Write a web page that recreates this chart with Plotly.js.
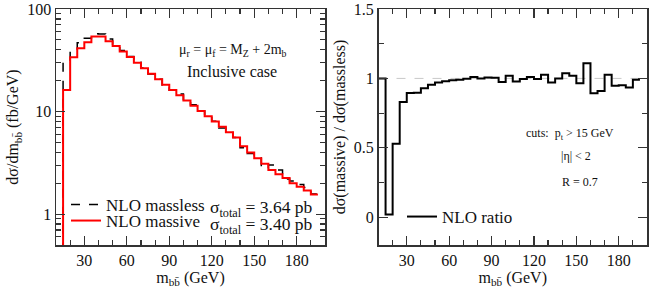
<!DOCTYPE html>
<html>
<head>
<meta charset="utf-8">
<script src="https://cdn.plot.ly/plotly-3.0.1.min.js"></script>
<style>body{margin:0;padding:0;background:#fff}#chart{width:650px;height:289px}</style>
</head>
<body>
<div id="chart"></div>
<script>
// bin edges (GeV), 5 GeV bins
const binEdges = [10,15,20,25,30,35,40,45,50,55,60,65,70,75,80,85,90,95,100,105,110,115,120,125,130,135,140,145,150,155,160,165,170,175,180,185,190,195];
// dσ/dm (fb/GeV), NLO massless (black dashed)
const massless = [0.1,30,40.5,47,52,57.5,57,51,45,39.3,34.5,30.3,26.6,23.2,20.7,18.2,16.1,14.8,12.55,11.65,10.15,8.9,8.05,6.9,6.5,5.6,4.45,3.9,3.62,2.8,3.02,2.7,2.2,2.1,1.95,1.82,1.57];
// dσ/dm (fb/GeV), NLO massive (red)
const massive = [0.1,16.2,33.8,41.5,47.4,54,54,48.5,43.5,38.5,34,30,26.5,23.4,20.7,18.3,16.2,14.4,12.8,11.4,10.1,9.0,8.0,7.1,6.3,5.6,4.6,4.0,3.5,3.1,2.7,2.45,2.25,2.0,1.85,1.7,1.55];
// ratio massive / massless
const ratio = [1.0,0.02,0.53,0.83,0.895,0.897,0.93,0.955,0.97,0.98,0.987,0.99,0.998,1.01,1.0,1.007,1.005,0.975,1.02,0.978,0.995,1.01,0.995,1.026,0.97,1.0,1.038,1.02,0.966,1.11,0.894,0.91,1.026,0.947,0.95,0.935,0.99];

const xTicks = [30,60,90,120,150,180];
const yLeftTicks = [1,10,100];
const yLeftTickText = ['1','10','100'];
const yLeftMinor = [0.6,0.7,0.8,0.9,2,3,4,5,6,7,8,9,20,30,40,50,60,70,80,90];

function stepY(v){ return v.concat([v[v.length-1]]); }

const FONT = '"Liberation Serif", "DejaVu Serif", serif';
const W = 650, TOP = 9, BOT = 245, PH = BOT - TOP;
const px = x => x / W;
const py = y => (BOT - y) / PH;

const traces = [
  {x: binEdges, y: stepY(massless), xaxis:'x', yaxis:'y', mode:'lines', name:'NLO massless',
   line:{shape:'hv', color:'#000', width:1.5, dash:'dash'}, legend:'legend'},
  {x: binEdges, y: stepY(massive), xaxis:'x', yaxis:'y', mode:'lines', name:'NLO massive',
   line:{shape:'hv', color:'#ff0000', width:2}, legend:'legend3'},
  {x: binEdges, y: stepY(ratio), xaxis:'x2', yaxis:'y2', mode:'lines', name:'NLO ratio',
   line:{shape:'hv', color:'#000', width:2}, legend:'legend2'}
];

const axCommon = {
  showline:true, mirror:'allticks', linecolor:'#333', linewidth:1.5,
  ticks:'inside', tickcolor:'#333', tickwidth:1.2, showgrid:false, zeroline:false,
  tickfont:{family:FONT, size:16, color:'#111'}
};
const xTitle = {text:'m<sub>bb\u0304</sub> (GeV)', font:{family:FONT, size:16, color:'#111'}, standoff:2};
const legFont = {family:FONT, size:17, color:'#111'};

function ann(x, y, text, size, xanchor){
  return {xref:'paper', yref:'paper', x:px(x), y:py(y), xanchor:xanchor||'center', yanchor:'middle',
    showarrow:false, text:text, font:{family:FONT, size:size, color:'#111'}};
}

const layout = {
  width:650, height:289,
  margin:{l:0, r:0, t:TOP, b:289-BOT},
  paper_bgcolor:'#fff', plot_bgcolor:'#fff',
  font:{family:FONT, color:'#111'},
  xaxis: Object.assign({}, axCommon, {domain:[px(56), px(325)], range:[10,200], anchor:'y',
    tickmode:'array', tickvals:xTicks, ticklen:9,
    minor:{dtick:10, tick0:0, ticklen:5, ticks:'inside', tickcolor:'#333'},
    title:xTitle}),
  yaxis: Object.assign({}, axCommon, {type:'log', range:[Math.log10(0.5), 2], anchor:'x',
    tickmode:'array', tickvals:yLeftTicks, ticktext:yLeftTickText, ticklen:9,
    minor:{tickmode:'array', tickvals:yLeftMinor, ticklen:5, ticks:'inside', tickcolor:'#333'},
    title:{text:'d\u03c3/dm<sub>bb\u0304</sub> (fb/GeV)', font:{family:FONT, size:16, color:'#111'}, standoff:4}}),
  xaxis2: Object.assign({}, axCommon, {domain:[px(378.5), px(647)], range:[10,200], anchor:'y2',
    tickmode:'array', tickvals:xTicks, ticklen:9,
    minor:{dtick:10, tick0:0, ticklen:5, ticks:'inside', tickcolor:'#333'},
    title:xTitle}),
  yaxis2: Object.assign({}, axCommon, {range:[-0.2, 1.5], anchor:'x2',
    tickmode:'array', tickvals:[0,0.5,1,1.5], ticktext:['0','0.5','1','1.5'], ticklen:9,
    minor:{tickmode:'array', tickvals:[0.25,0.75,1.25], ticklen:5, ticks:'inside', tickcolor:'#333'},
    title:{text:'d\u03c3(massive) / d\u03c3(massless)', font:{family:FONT, size:16, color:'#111'}, standoff:4}}),
  showlegend:true,
  legend:{x:px(66), y:py(187), xanchor:'left', yanchor:'top', bgcolor:'rgba(0,0,0,0)', font:legFont},
  legend3:{x:px(66), y:py(203), xanchor:'left', yanchor:'top', bgcolor:'rgba(0,0,0,0)', font:legFont},
  legend2:{x:px(402), y:py(199), xanchor:'left', yanchor:'top', bgcolor:'rgba(0,0,0,0)', font:legFont},
  shapes:[{type:'line', xref:'x2 domain', x0:0, x1:1, yref:'y2', y0:1, y1:1,
    line:{color:'#c8c8c8', width:1, dash:'dash'}, layer:'below'}],
  annotations:[
    ann(233, 51, '\u03bc<sub>r</sub> = \u03bc<sub>f</sub> = M<sub>Z</sub> + 2m<sub>b</sub>', 14),
    ann(232, 71, 'Inclusive case', 16),
    ann(208, 208, '\u03c3<sub>total</sub> = 3.64 pb', 17.5, 'left'),
    ann(208, 225, '\u03c3<sub>total</sub> = 3.40 pb', 17.5, 'left'),
    ann(524, 134, 'cuts:  p<sub>t</sub> > 15 GeV', 12, 'left'),
    ann(559, 156, '|\u03b7| < 2', 12, 'left'),
    ann(560, 182, 'R = 0.7', 12, 'left')
  ]
};

Plotly.newPlot('chart', traces, layout, {displayModeBar:false, staticPlot:true});
</script>
</body>
</html>
